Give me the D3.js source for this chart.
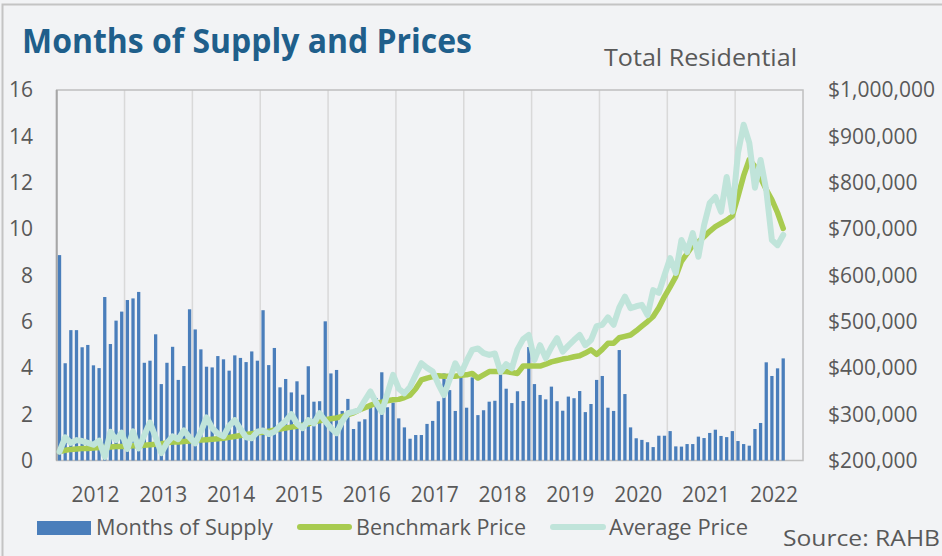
<!DOCTYPE html>
<html>
<head>
<meta charset="utf-8">
<script src="https://cdn.jsdelivr.net/npm/d3@7"></script>
<style>
  body { margin: 0; background: #f2f3f5; }
  text { font-family: "Open Sans", Lato, sans-serif; fill: #595959; }
</style>
</head>
<body>
<svg id="chart" width="942" height="556"></svg>
<script>
// months of supply, Jul 2011 .. Mar 2022 (3 empty months at the end of the axis)
const supply = [8.87,4.2,5.63,5.63,4.89,4.99,4.11,3.99,7.06,5.03,
  6.04,6.43,6.93,7.0,7.28,4.22,4.31,5.45,3.30,4.22,
  4.91,3.48,4.08,6.53,5.66,4.80,4.05,4.02,4.51,4.37,
  3.88,4.54,4.43,4.25,4.71,4.31,6.49,4.12,4.86,3.16,
  3.52,2.94,3.42,2.84,4.07,2.54,2.56,6.01,3.76,3.91,
  2.14,2.66,1.36,1.68,1.78,2.35,2.7,3.81,2.3,2.5,
  1.82,1.43,0.94,1.1,1.1,1.58,1.71,2.56,3.76,3.04,
  2.14,3.62,2.28,3.59,1.96,2.17,2.54,2.58,3.71,3.10,
  2.48,2.99,2.57,4.90,3.30,2.83,2.64,3.19,2.56,2.15,
  2.76,2.69,3.0,2.09,2.44,3.48,3.65,2.28,2.14,4.77,
  2.87,1.43,0.96,0.89,0.79,0.58,1.07,1.07,1.27,0.61,
  0.60,0.71,0.71,1.03,0.97,1.19,1.33,1.06,1.01,1.27,
  0.84,0.71,0.64,1.36,1.62,4.24,3.65,3.98,4.41];

// prices in $ thousands
const benchmark = [219,222,224,225,226,226,227,228,228,229,
  230,230,231,232,232,233,234,235,236,238,
  240,240,241,242,243,244,245,246,247,248,
  250,252,254,256,258,260,261,263,266,268,
  270,272,274,276,279,284,286,288,290,292,
  295,299,303,309,314,319,324,326,329,331,
  332,336,341,355,374,378,381,383,382,382,
  382,384,385,388,378,385,392,392,392,392,
  390,388,404,404,404,404,408,413,416,419,
  421,424,426,432,439,429,440,453,453,465,
  468,471,480,490,500,511,530,554,575,597,
  630,647,665,672,683,695,705,712,719,728,
  770,815,850,835,810,785,763,735,701];

const average = [219,250,238,244,242,238,234,243,208,262,
  244,260,225,263,226,255,282,250,216,238,
  252,246,265,250,237,262,293,270,258,252,
  275,287,268,250,248,262,265,257,262,275,
  285,300,280,270,287,280,302,285,270,259,
  285,302,305,309,330,349,325,305,345,385,
  355,345,359,385,410,400,392,365,341,375,
  410,388,415,439,442,432,428,431,392,408,
  399,440,462,471,417,449,421,445,464,435,
  448,460,471,449,460,490,493,509,493,530,
  554,529,533,536,514,568,562,600,637,605,
  676,650,691,640,708,756,769,737,812,737,
  864,925,886,789,849,784,676,665,687];

const years = ['2012','2013','2014','2015','2016','2017','2018','2019','2020','2021','2022'];
const supplyTicks = [0,2,4,6,8,10,12,14,16];
const priceTicks = [200,300,400,500,600,700,800,900,1000];

const nMonths = years.length * 12;
const plotLeft = 56.7, plotRight = 803, plotTop = 90, plotBottom = 460.5;

const svg = d3.select('#chart');

// outer frame
svg.append('rect')
    .attr('x', 2.5).attr('y', 4.5)
    .attr('width', 960).attr('height', 600)
    .attr('fill', '#f2f3f5')
    .attr('stroke', '#c4c4c4')
    .attr('stroke-width', 2);

var x = d3.scaleBand()
    .domain(d3.range(nMonths))
    .range([plotLeft, plotRight])
    .paddingInner(0.42)
    .paddingOuter(0.21);
const step = x.step();
const cx = i => x(i) + x.bandwidth() / 2;

var yL = d3.scaleLinear().domain([0, 16]).range([plotBottom, plotTop]);
var yR = d3.scaleLinear().domain([200, 1000]).range([plotBottom, plotTop]);

// vertical gridlines every 12 months
svg.append('g')
    .selectAll('line')
    .data(d3.range(1, years.length))
    .join('line')
    .attr('x1', d => x(d * 12) - step * 0.21)
    .attr('x2', d => x(d * 12) - step * 0.21)
    .attr('y1', plotTop).attr('y2', plotBottom)
    .attr('stroke', '#d9d9d9')
    .attr('stroke-width', 1.5);

// plot frame
svg.append('rect')
    .attr('x', plotLeft).attr('y', plotTop)
    .attr('width', plotRight - plotLeft).attr('height', plotBottom - plotTop)
    .attr('fill', 'none')
    .attr('stroke', '#bfbfbf')
    .attr('stroke-width', 1.5);
svg.append('line')
    .attr('x1', plotLeft).attr('x2', plotLeft)
    .attr('y1', plotTop).attr('y2', plotBottom)
    .attr('stroke', '#a6a6a6')
    .attr('stroke-width', 2);

// bars
svg.append('g')
    .selectAll('rect')
    .data(supply)
    .join('rect')
    .attr('x', (d, i) => x(i))
    .attr('width', x.bandwidth())
    .attr('y', d => yL(d))
    .attr('height', d => yL(0) - yL(d))
    .attr('fill', '#4a7ebb');

// price lines
var line = d3.line()
    .x((d, i) => cx(i))
    .y(d => yR(d));

svg.append('path')
    .datum(benchmark)
    .attr('d', line)
    .attr('fill', 'none')
    .attr('stroke', '#a8cb50')
    .attr('stroke-width', 5.5)
    .attr('stroke-linejoin', 'round')
    .attr('stroke-linecap', 'round');

svg.append('path')
    .datum(average)
    .attr('d', line)
    .attr('fill', 'none')
    .attr('stroke', '#c0e4da')
    .attr('stroke-width', 6)
    .attr('stroke-linejoin', 'round')
    .attr('stroke-linecap', 'round');

// axes labels
svg.append('g')
    .selectAll('text')
    .data(supplyTicks)
    .join('text')
    .attr('x', 33)
    .attr('y', d => yL(d))
    .attr('dy', '0.35em')
    .attr('text-anchor', 'end')
    .style('font-size', '21px')
    .text(d => d);

const fmt = d3.format('$,.0f');
svg.append('g')
    .selectAll('text')
    .data(priceTicks)
    .join('text')
    .attr('x', 828)
    .attr('y', d => yR(d))
    .attr('dy', '0.35em')
    .style('font-size', '21px')
    .text(d => fmt(d * 1000));

svg.append('g')
    .selectAll('text')
    .data(years)
    .join('text')
    .attr('x', (d, i) => cx(6 + i * 12) + 2)
    .attr('y', 495)
    .attr('dy', '0.35em')
    .attr('text-anchor', 'middle')
    .style('font-size', '21px')
    .text(d => d);

// titles
svg.append('text')
    .attr('x', 22).attr('y', 53)
    .attr('textLength', 450)
    .attr('lengthAdjust', 'spacingAndGlyphs')
    .style('font-size', '34px')
    .style('font-weight', 'bold')
    .style('fill', '#1f5f8b')
    .text('Months of Supply and Prices');

svg.append('text')
    .attr('x', 604).attr('y', 66)
    .attr('textLength', 193)
    .attr('lengthAdjust', 'spacingAndGlyphs')
    .style('font-size', '23px')
    .text('Total Residential');

// legend
const legend = svg.append('g');
legend.append('rect')
    .attr('x', 37).attr('y', 521)
    .attr('width', 54).attr('height', 14)
    .attr('fill', '#4a7ebb');
legend.append('line')
    .attr('x1', 300).attr('x2', 349).attr('y1', 527).attr('y2', 527)
    .attr('stroke', '#a8cb50').attr('stroke-width', 6).attr('stroke-linecap', 'round');
legend.append('line')
    .attr('x1', 553).attr('x2', 603).attr('y1', 527).attr('y2', 527)
    .attr('stroke', '#c0e4da').attr('stroke-width', 6).attr('stroke-linecap', 'round');

const legendLabels = ['Months of Supply', 'Benchmark Price', 'Average Price'];
const legendX = [96, 356, 609];
const legendW = [177, 170, 139];
legend.selectAll('text.lbl')
    .data(legendLabels)
    .join('text')
    .attr('class', 'lbl')
    .attr('x', (d, i) => legendX[i])
    .attr('y', 528)
    .attr('dy', '0.35em')
    .attr('textLength', (d, i) => legendW[i])
    .attr('lengthAdjust', 'spacingAndGlyphs')
    .style('font-size', '21px')
    .text(d => d);

svg.append('text')
    .attr('x', 783).attr('y', 539).attr('dy', '0.35em')
    .attr('textLength', 157)
    .attr('lengthAdjust', 'spacingAndGlyphs')
    .style('font-size', '21px')
    .text('Source: RAHB');
</script>
</body>
</html>
